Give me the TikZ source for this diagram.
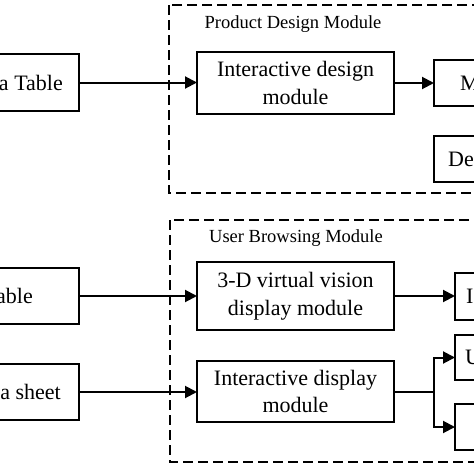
\documentclass[tikz,border=0pt]{standalone}
\usepackage{fontspec}
\setmainfont{Liberation Serif}
\usetikzlibrary{arrows.meta}
\begin{document}
\begin{tikzpicture}[x=1pt,y=-1pt,
 box/.style={draw, line width=2pt, fill=white, anchor=north west, inner sep=0pt, outer sep=0pt},
 txt/.style={font=\fontsize{22}{27.5}\selectfont, align=center, inner sep=0pt},
 lbl/.style={font=\fontsize{18.5}{22}\selectfont, fill=white, inner sep=3pt},
 grp/.style={draw, line width=2pt, dash pattern=on 10pt off 5pt},
 arr/.style={line width=2pt, -{Triangle[length=12pt,width=12pt]}},
 ln/.style={line width=2pt}]
\useasboundingbox (0,0) rectangle (474,474);
\clip (0,0) rectangle (474,474);
% group frames
\draw[grp] (169,5) rectangle (520,193);
\draw[grp] (170,220) rectangle (520,462);
\node[lbl] (lab1) at (293,24) {Product Design Module};
\node[lbl] (lab2) at (296,238) {User Browsing Module};
% left boxes
\node[box, minimum width=199pt, minimum height=57pt] (src1) at (-120,54) {};
\node[box, minimum width=199pt, minimum height=56pt] (src2) at (-120,268) {};
\node[box, minimum width=199pt, minimum height=56pt] (src3) at (-120,364) {};
\node[txt, anchor=east] (t1) at (63,83) {a Table};
\node[txt, anchor=east] (t2) at (33,296) {able};
\node[txt, anchor=east] (t3) at (61,392) {a sheet};
% middle boxes
\node[box, minimum width=197pt, minimum height=62pt] (m1) at (197,52) {};
\node[txt] (m1t) at (m1.center) {Interactive design\\module};
\node[box, minimum width=197pt, minimum height=68pt] (m2) at (197,262) {};
\node[txt] (m2t) at (m2.center) {3-D virtual vision\\display module};
\node[box, minimum width=197pt, minimum height=61pt] (m3) at (197,361) {};
\node[txt] (m3t) at (m3.center) {Interactive display\\module};
% right boxes
\node[box, minimum width=100pt, minimum height=46pt] (r1) at (434,60) {};
\node[box, minimum width=100pt, minimum height=46pt] (r2) at (434,136) {};
\node[box, minimum width=100pt, minimum height=47pt] (r3) at (455,273) {};
\node[box, minimum width=100pt, minimum height=45pt] (r4) at (455,335) {};
\node[box, minimum width=100pt, minimum height=46pt] (r5) at (455,404) {};
\node[txt, anchor=west] (r1t) at (460,83) {M};
\node[txt, anchor=west] (r2t) at (448,159) {De};
\node[txt, anchor=west] (r3t) at (466,296.5) {In};
\node[txt, anchor=west] (r4t) at (465,357.5) {U};
% connectors
\draw[arr] (src1.east) -- (src1.east -| m1.west);
\draw[arr] (m1.east) -- (m1.east -| r1.west);
\draw[arr] (src2.east) -- (src2.east -| m2.west);
\draw[arr] (m2.east) -- (m2.east -| r3.west);
\draw[arr] (src3.east) -- (src3.east -| m3.west);
\coordinate (br) at (434,391.5);
\draw[ln] (m3.east) -- (m3.east -| br);
\draw[arr] (m3.east -| br) |- (r4.west);
\draw[arr] (m3.east -| br) |- (r5.west);
\end{tikzpicture}
\end{document}
